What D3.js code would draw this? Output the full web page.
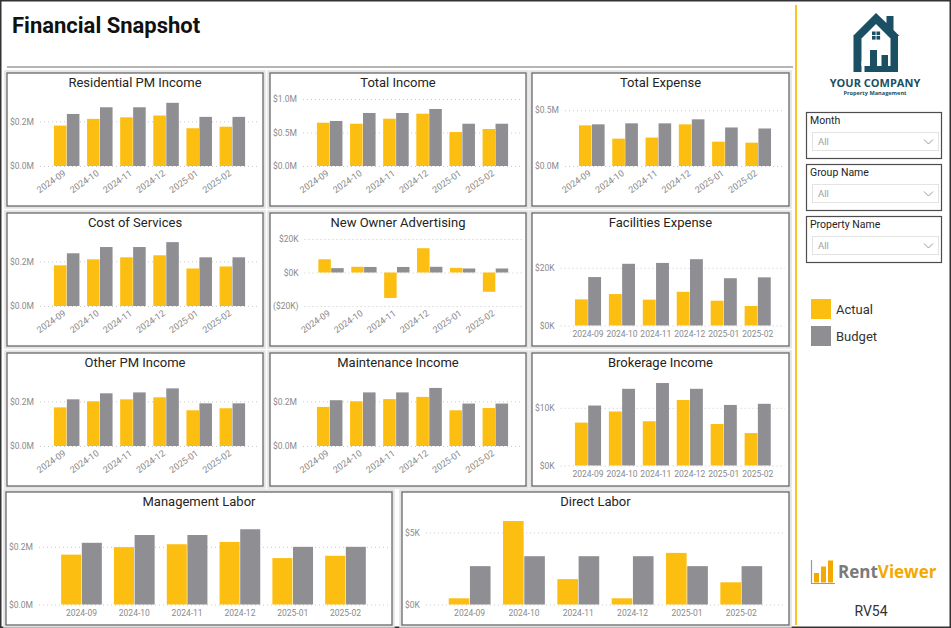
<!DOCTYPE html>
<html><head><meta charset="utf-8">
<script src="https://cdn.jsdelivr.net/npm/d3@7"></script>
<style>
html,body{margin:0;padding:0;background:#fff;}
svg{display:block;}
</style></head><body>
<svg id="c" width="951" height="628"></svg>
<script>
// ---------------- DATA ----------------
const months = ["2024-09","2024-10","2024-11","2024-12","2025-01","2025-02"];
const seriesNames = ["Actual","Budget"];

const resPMActual = [0.181,0.211,0.218,0.226,0.169,0.176];
const resPMBudget = [0.233,0.263,0.263,0.283,0.220,0.220];
const totIncActual = [0.646,0.631,0.706,0.781,0.507,0.552];
const totIncBudget = [0.672,0.791,0.791,0.851,0.631,0.631];
const totExpActual = [0.364,0.245,0.255,0.373,0.218,0.209];
const totExpBudget = [0.373,0.382,0.382,0.418,0.345,0.336];
const costSvcActual = [0.182,0.209,0.218,0.227,0.168,0.177];
const costSvcBudget = [0.236,0.264,0.264,0.286,0.218,0.218];
const newOwnerActual = [7.9,3.4,-15.2,14.5,2.8,-11.5];
const newOwnerBudget = [2.6,3.3,3.3,3.4,2.4,2.4];
const facilitiesActual = [9.07,10.9,8.97,11.7,8.6,6.76];
const facilitiesBudget = [16.8,21.4,21.7,23.0,16.4,16.7];
const otherPMActual = [0.173,0.200,0.209,0.218,0.160,0.169];
const otherPMBudget = [0.209,0.236,0.240,0.258,0.191,0.191];
const maintActual = [0.175,0.200,0.210,0.220,0.160,0.170];
const maintBudget = [0.205,0.240,0.240,0.260,0.190,0.190];
const brokerageActual = [7.44,9.37,7.67,11.36,7.2,5.62];
const brokerageBudget = [10.4,13.3,14.3,13.3,10.5,10.7];
const mgmtLaborActual = [0.173,0.199,0.209,0.217,0.161,0.169];
const mgmtLaborBudget = [0.214,0.241,0.241,0.261,0.200,0.200];
const directLaborActual = [0.43,5.79,1.76,0.43,3.58,1.54];
const directLaborBudget = [2.66,3.35,3.35,3.35,2.66,2.66];

const ticksM02 = [0, 0.2];
const ticksM05 = [0, 0.5];
const ticksM1 = [0, 0.5, 1.0];
const ticksK20 = [-20, 0, 20];
const ticksK20pos = [0, 20];
const ticksK10 = [0, 10];
const ticksK5 = [0, 5];

const slicerNames = ["Month","Group Name","Property Name"];

// ---------------- STYLE ----------------
const COL_ACT = "#FDBE12", COL_BUD = "#8F8E93";
const fmtM = d => "$" + d.toFixed(1) + "M";
const fmtK = d => d < 0 ? "($" + Math.abs(d) + "K)" : "$" + d + "K";

const charts = [
  {title:"Residential PM Income", actual:resPMActual, budget:resPMBudget, ticks:ticksM02, domain:[0,0.3], fmt:fmtM, rotate:true, box:[7,73,256,133]},
  {title:"Total Income", actual:totIncActual, budget:totIncBudget, ticks:ticksM1, domain:[0,1.0], fmt:fmtM, rotate:true, box:[270,73,256,133]},
  {title:"Total Expense", actual:totExpActual, budget:totExpBudget, ticks:ticksM05, domain:[0,0.6], fmt:fmtM, rotate:true, box:[532,73,257,133]},
  {title:"Cost of Services", actual:costSvcActual, budget:costSvcBudget, ticks:ticksM02, domain:[0,0.3], fmt:fmtM, rotate:true, box:[7,213,256,133]},
  {title:"New Owner Advertising", actual:newOwnerActual, budget:newOwnerBudget, ticks:ticksK20, domain:[-20,20], fmt:fmtK, rotate:true, box:[270,213,256,133]},
  {title:"Facilities Expense", actual:facilitiesActual, budget:facilitiesBudget, ticks:ticksK20pos, domain:[0,30], fmt:fmtK, rotate:false, box:[532,213,257,133]},
  {title:"Other PM Income", actual:otherPMActual, budget:otherPMBudget, ticks:ticksM02, domain:[0,0.3], fmt:fmtM, rotate:true, box:[7,353,256,133]},
  {title:"Maintenance Income", actual:maintActual, budget:maintBudget, ticks:ticksM02, domain:[0,0.3], fmt:fmtM, rotate:true, box:[270,353,256,133]},
  {title:"Brokerage Income", actual:brokerageActual, budget:brokerageBudget, ticks:ticksK10, domain:[0,15], fmt:fmtK, rotate:false, box:[532,353,257,133]},
  {title:"Management Labor", actual:mgmtLaborActual, budget:mgmtLaborBudget, ticks:ticksM02, domain:[0,0.3], fmt:fmtM, rotate:false, box:[6,492,386,133]},
  {title:"Direct Labor", actual:directLaborActual, budget:directLaborBudget, ticks:ticksK5, domain:[0,6], fmt:fmtK, rotate:false, box:[402,492,387,133]}
];

const svg = d3.select("#c");
const W = 951, H = 628;
svg.append("rect").attr("width",W).attr("height",H).attr("fill","#fff");
svg.append("rect").attr("x",0.75).attr("y",0.75).attr("width",W-1.5).attr("height",H-1.5)
  .attr("fill","none").attr("stroke","#333").attr("stroke-width",1.5);

svg.append("text").attr("x",12).attr("y",33).text("Financial Snapshot")
  .attr("font-family","Roboto, 'Open Sans', sans-serif").attr("font-weight",700)
  .attr("font-size",22).attr("fill","#111");
svg.append("line").attr("x1",7).attr("x2",793).attr("y1",67).attr("y2",67)
  .attr("stroke","#b5b5b5").attr("stroke-width",2);
svg.append("line").attr("x1",796).attr("x2",796).attr("y1",5).attr("y2",625)
  .attr("stroke","#F9C41B").attr("stroke-width",2);

const AXFONT = "Roboto, 'DejaVu Sans', sans-serif";

function drawChart(cfg){
  const [bx,by,bw,bh] = cfg.box;
  const g = svg.append("g").attr("transform",`translate(${bx},${by})`);
  g.append("rect").attr("x",-1.5).attr("y",-1.5).attr("width",bw+3).attr("height",bh+3)
    .attr("fill","none").attr("stroke","#e4e4e4").attr("stroke-width",2.5);
  g.append("rect").attr("x",0).attr("y",0).attr("width",bw).attr("height",bh)
    .attr("fill","#fff").attr("stroke","#5c5c5c").attr("stroke-width",1.2);
  g.append("text").attr("x",bw/2).attr("y",14).attr("text-anchor","middle")
    .attr("font-family",AXFONT).attr("font-size",13).attr("fill","#252423").text(cfg.title);

  const tmp = g.append("text").attr("font-family",AXFONT).attr("font-size",8.5);
  let maxW = 0;
  cfg.ticks.forEach(t => { tmp.text(cfg.fmt(t)); maxW = Math.max(maxW, tmp.node().getComputedTextLength()); });
  tmp.remove();
  const gridStart = 3 + maxW + 6;
  const gridEnd = bw - 4;
  const bottom = cfg.rotate ? 93 : 112.5;
  const top = 26;

  const y = d3.scaleLinear().domain(cfg.domain).range([bottom, top]);
  const x0 = d3.scaleBand().domain(months).range([gridStart, gridEnd]).paddingInner(0.23).paddingOuter(0.42);
  const x1 = d3.scaleBand().domain(seriesNames).range([0, x0.bandwidth()]).paddingInner(0.03);

  const yAxis = g.append("g").attr("transform",`translate(${gridStart},0)`)
    .call(d3.axisLeft(y).tickValues(cfg.ticks).tickFormat(cfg.fmt).tickSize(-(gridEnd-gridStart)).tickPadding(6));
  yAxis.select(".domain").remove();
  yAxis.selectAll("line").attr("stroke","#c9c9c9").attr("stroke-dasharray","1,3").attr("stroke-width",1);
  yAxis.selectAll("text").attr("font-family",AXFONT).attr("font-size",8.5).attr("fill","#8a8a8a");

  const rows = months.map((m,i) => ({m, vals:[cfg.actual[i], cfg.budget[i]]}));
  const grp = g.selectAll(".grp").data(rows).join("g").attr("transform",d => `translate(${x0(d.m)},0)`);
  grp.selectAll("rect").data(d => d.vals.map((v,j) => ({s:seriesNames[j], v})))
    .join("rect")
    .attr("x", d => x1(d.s)).attr("width", x1.bandwidth())
    .attr("y", d => y(Math.max(0,d.v)))
    .attr("height", d => Math.abs(y(d.v) - y(0)))
    .attr("fill", d => d.s === "Actual" ? COL_ACT : COL_BUD);

  const xAxis = g.append("g").attr("transform",`translate(0,${bottom})`)
    .call(d3.axisBottom(x0).tickSize(0));
  xAxis.select(".domain").remove();
  const xt = xAxis.selectAll("text").attr("font-family",AXFONT).attr("fill","#8a8a8a");
  if (cfg.rotate){
    xt.attr("font-size",9).attr("x",0).attr("y",0).attr("dy","0.35em").attr("text-anchor","end")
      .attr("transform","translate(-2,6) rotate(-35)");
  } else {
    xt.attr("font-size",8.5).attr("y",5);
  }
}
charts.forEach(drawChart);

// ---------------- SIDEBAR ----------------
const teal = "#1B4F63";
const logo = svg.append("g");
logo.append("path").attr("fill",teal)
  .attr("d","M853,36 L876,13 L886.5,23 L886.5,16 L893.5,16 L893.5,30 L899.5,36 L898,36 L898,72 L853.5,72 L853.5,36 Z");
logo.append("path").attr("fill","#fff")
  .attr("d","M861.5,38.5 L876,24 L890.5,38.5 L890.5,66 L861.5,66 Z");
logo.append("rect").attr("x",870).attr("y",50).attr("width",7).attr("height",22).attr("fill",teal);
logo.append("rect").attr("x",881.5).attr("y",55).attr("width",6.5).attr("height",17).attr("fill",teal);
logo.append("rect").attr("x",861.5).attr("y",61).attr("width",3).attr("height",11).attr("fill","#fff");
[[872,31.5],[876.5,31.5],[872,36],[876.5,36]].forEach(([wx,wy]) =>
  logo.append("rect").attr("x",wx).attr("y",wy).attr("width",3.6).attr("height",3.6).attr("fill",teal));
svg.append("text").attr("x",875).attr("y",87).attr("text-anchor","middle")
  .attr("font-family","'Open Sans', sans-serif").attr("font-weight",700).attr("font-size",11)
  .attr("fill",teal).text("YOUR COMPANY");
svg.append("text").attr("x",875).attr("y",94.5).attr("text-anchor","middle")
  .attr("font-family","'Open Sans', sans-serif").attr("font-weight",700).attr("font-size",5.6)
  .attr("fill",teal).text("Property Management");

const SFONT = "Roboto, 'Open Sans', sans-serif";
const slicerTops = [112, 164, 216];
slicerNames.forEach((name,i) => {
  const t = slicerTops[i];
  const sg = svg.append("g").attr("transform",`translate(806,${t})`);
  sg.append("rect").attr("x",0.5).attr("y",0.5).attr("width",135).attr("height",46)
    .attr("fill","#fff").attr("stroke","#4d4d4d").attr("stroke-width",1.2);
  sg.append("text").attr("x",4).attr("y",12).attr("font-family",SFONT).attr("font-size",10.5)
    .attr("fill","#252423").text(name);
  sg.append("rect").attr("x",6.5).attr("y",20.5).attr("width",126).attr("height",18)
    .attr("fill","#fff").attr("stroke","#e3e3e3").attr("stroke-width",1);
  sg.append("text").attr("x",12).attr("y",33).attr("font-family",SFONT).attr("font-size",9.5)
    .attr("fill","#a0a0a0").text("All");
  sg.append("path").attr("d","M118,27.5 L122.5,32 L127,27.5").attr("fill","none")
    .attr("stroke","#9a9a9a").attr("stroke-width",1);
});

// legend
const legColors = [COL_ACT, COL_BUD];
seriesNames.forEach((s,i) => {
  const ly = 299 + i*27;
  svg.append("rect").attr("x",811).attr("y",ly).attr("width",20).attr("height",20).attr("fill",legColors[i]);
  svg.append("text").attr("x",836).attr("y",ly+14.5).attr("font-family",SFONT).attr("font-size",13)
    .attr("fill","#333").text(s);
});

// RentViewer logo
const rv = svg.append("g");
rv.append("path").attr("d","M811.5,560 L811.5,583.5 L835,583.5").attr("fill","none")
  .attr("stroke","#9a9a9a").attr("stroke-width",1.2);
[[814,573,5,9.5],[821,566.5,5,16],[828,560.5,5,22]].forEach(([rx,ry,rw,rh]) =>
  rv.append("rect").attr("x",rx).attr("y",ry).attr("width",rw).attr("height",rh).attr("fill","#F5A800"));
const rvText = svg.append("text").attr("x",838).attr("y",578).attr("font-family","'Open Sans', sans-serif")
  .attr("font-weight",700).attr("font-size",17);
rvText.append("tspan").attr("fill","#7a7a7a").text("Rent");
rvText.append("tspan").attr("fill","#F5A800").text("Viewer");
svg.append("text").attr("x",871).attr("y",616).attr("text-anchor","middle").attr("font-family",SFONT)
  .attr("font-size",14).attr("fill","#333").text("RV54");
</script>
</body></html>
